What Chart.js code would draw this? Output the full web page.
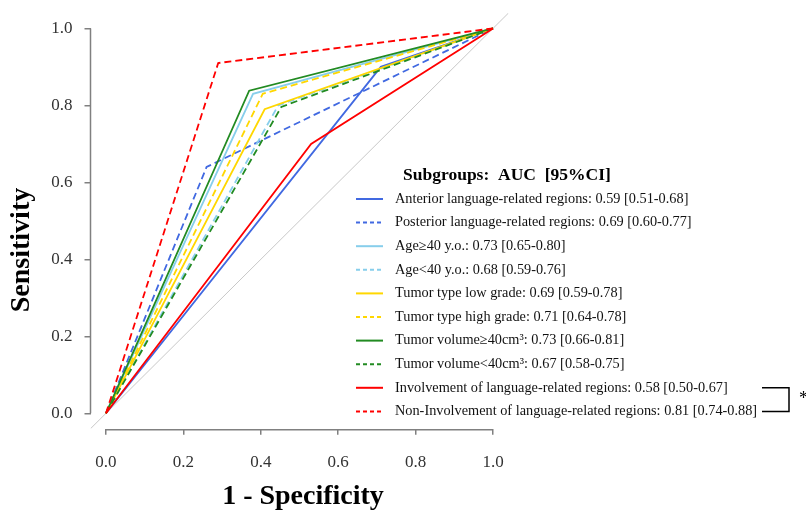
<!DOCTYPE html>
<html>
<head>
<meta charset="utf-8">
<script src="https://cdn.jsdelivr.net/npm/chart.js@4"></script>
<style>
  html, body { margin: 0; padding: 0; background: #fff; }
  #wrap { width: 806px; height: 513px; }
</style>
</head>
<body>
<div id="wrap"><canvas id="roc" width="806" height="513"></canvas></div>
<script>
// subgroups, each ROC curve goes (0,0) -> (fpr, tpr) -> (1,1)
var labels = [
    "Anterior language-related regions: 0.59 [0.51-0.68]",
    "Posterior language-related regions: 0.69 [0.60-0.77]",
    "Age\u226540 y.o.: 0.73 [0.65-0.80]",
    "Age<40 y.o.: 0.68 [0.59-0.76]",
    "Tumor type low grade: 0.69 [0.59-0.78]",
    "Tumor type high grade: 0.71 [0.64-0.78]",
    "Tumor volume\u226540cm\u00b3: 0.73 [0.66-0.81]",
    "Tumor volume<40cm\u00b3: 0.67 [0.58-0.75]",
    "Involvement of language-related regions: 0.58 [0.50-0.67]",
    "Non-Involvement of language-related regions: 0.81 [0.74-0.88]"
];
var fpr = [0.71, 0.26, 0.38, 0.445, 0.41, 0.405, 0.37, 0.453, 0.53, 0.29];
var tpr = [0.90, 0.64, 0.83, 0.80, 0.79, 0.83, 0.838, 0.796, 0.70, 0.91];
var colors = ["#4169E1", "#4169E1", "#87CEEB", "#87CEEB", "#FFD700", "#FFD700",
              "#228B22", "#228B22", "#FF0000", "#FF0000"];
var dashed = [false, true, false, true, false, true, false, true, false, true];

var xTicks = [0, 0.2, 0.4, 0.6, 0.8, 1.0];
var yTicks = [0, 0.2, 0.4, 0.6, 0.8, 1.0];
var axisMin = -0.04;
var axisMax = 1.04;

var serif = "'Liberation Serif', 'Times New Roman', serif";

var datasets = [];
for (var i = 0; i < labels.length; i++) {
    datasets.push({
        label: labels[i],
        data: [{x: 0, y: 0}, {x: fpr[i], y: tpr[i]}, {x: 1, y: 1}],
        borderColor: colors[i],
        backgroundColor: colors[i],
        borderWidth: 1.8,
        borderDash: dashed[i] ? [7, 4] : [],
        showLine: true,
        pointRadius: 0,
        fill: false,
        order: labels.length - i
    });
}
// chance line, drawn first
datasets.push({
    label: "chance",
    data: [{x: axisMin, y: axisMin}, {x: axisMax, y: axisMax}],
    borderColor: "#c8c8c8",
    borderWidth: 1,
    showLine: true,
    pointRadius: 0,
    order: 100
});

var rAxes = {
    id: 'rAxes',
    afterDraw: function(chart) {
        var ctx = chart.ctx;
        var xs = chart.scales.x, ys = chart.scales.y;
        var area = chart.chartArea;
        ctx.save();
        ctx.strokeStyle = "#808080";
        ctx.lineWidth = 1.5;
        ctx.beginPath();
        ctx.moveTo(xs.getPixelForValue(0), area.bottom + 1);
        ctx.lineTo(xs.getPixelForValue(1), area.bottom + 1);
        ctx.moveTo(area.left, ys.getPixelForValue(0));
        ctx.lineTo(area.left, ys.getPixelForValue(1));
        ctx.stroke();

        // axis titles
        ctx.fillStyle = "#000";
        ctx.font = "bold 28px " + serif;
        ctx.textAlign = "center";
        ctx.textBaseline = "middle";
        ctx.fillText("1 - Specificity", 303, 497);
        ctx.save();
        ctx.translate(22, 250);
        ctx.rotate(-Math.PI / 2);
        ctx.fillText("Sensitivity", 0, 0);
        ctx.restore();

        // legend
        var lx = 356, ly = 199, step = 23.6;
        ctx.font = "bold 17.5px " + serif;
        ctx.textAlign = "left";
        ctx.fillText("Subgroups:  AUC  [95%CI]", 403, 175);
        ctx.font = "14.3px " + serif;
        ctx.fillStyle = "#111";
        chart.data.datasets.forEach(function(ds, i) {
            if (i >= labels.length) return;
            var y = ly + i * step;
            ctx.strokeStyle = ds.borderColor;
            ctx.lineWidth = 2;
            ctx.setLineDash(ds.borderDash.length ? [4, 3] : []);
            ctx.beginPath();
            ctx.moveTo(lx, y);
            ctx.lineTo(lx + 27, y);
            ctx.stroke();
            ctx.setLineDash([]);
            ctx.fillText(ds.label, 395, y);
        });

        // significance bracket
        var y1 = ly + 8 * step, y2 = ly + 9 * step;
        ctx.strokeStyle = "#000";
        ctx.lineWidth = 1.5;
        ctx.beginPath();
        ctx.moveTo(762, y1);
        ctx.lineTo(789, y1);
        ctx.lineTo(789, y2);
        ctx.lineTo(762, y2);
        ctx.stroke();
        ctx.font = "18px " + serif;
        ctx.fillStyle = "#000";
        ctx.fillText("*", 799, (y1 + y2) / 2);
        ctx.restore();
    }
};

new Chart(document.getElementById("roc"), {
    type: "scatter",
    data: { datasets: datasets },
    options: {
        responsive: false,
        animation: false,
        layout: { padding: { top: 13, right: 297.5, left: 0, bottom: 0 } },
        plugins: { legend: { display: false }, tooltip: { enabled: false } },
        scales: {
            x: {
                type: "linear",
                min: axisMin,
                max: axisMax,
                afterBuildTicks: function(s) { s.ticks = xTicks.map(function(v) { return {value: v}; }); },
                afterFit: function(s) { s.height = 84.3; s.paddingLeft = 0; s.paddingRight = 0; },
                border: { display: false },
                grid: { drawOnChartArea: false, drawTicks: true, tickLength: 6, color: "#808080", lineWidth: 1.5 },
                ticks: {
                    padding: 18,
                    color: "#333",
                    font: { family: serif, size: 17 },
                    callback: function(v) { return v.toFixed(1); }
                }
            },
            y: {
                type: "linear",
                min: axisMin,
                max: axisMax,
                afterBuildTicks: function(s) { s.ticks = yTicks.map(function(v) { return {value: v}; }); },
                afterFit: function(s) { s.width = 90.5; s.paddingTop = 0; s.paddingBottom = 0; },
                border: { display: false },
                grid: { drawOnChartArea: false, drawTicks: true, tickLength: 6, color: "#808080", lineWidth: 1.5 },
                ticks: {
                    padding: 12,
                    color: "#333",
                    font: { family: serif, size: 17 },
                    callback: function(v) { return v.toFixed(1); }
                }
            }
        }
    },
    plugins: [rAxes]
});
</script>
</body>
</html>
